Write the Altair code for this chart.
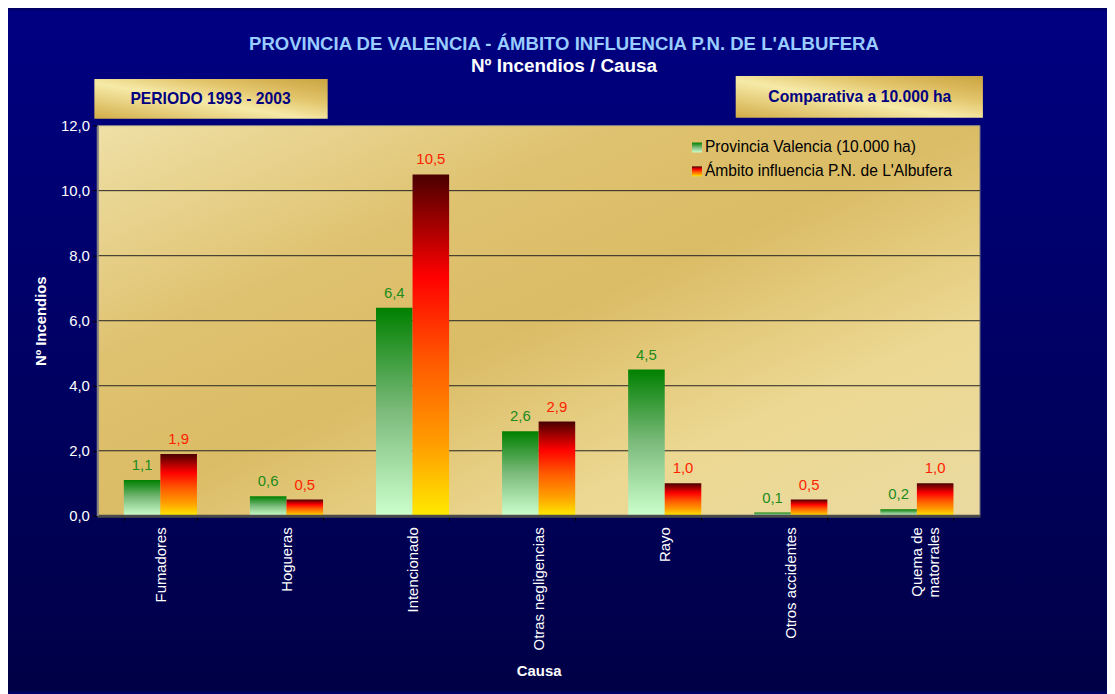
import altair as alt
import pandas as pd

# ---------------- data ----------------
causas = ["Fumadores", "Hogueras", "Intencionado", "Otras negligencias",
          "Rayo", "Otros accidentes", "Quema de matorrales"]
provincia = [1.1, 0.6, 6.4, 2.6, 4.5, 0.1, 0.2]
ambito = [1.9, 0.5, 10.5, 2.9, 1.0, 0.5, 1.0]
series = ["Provincia Valencia (10.000 ha)", "Ámbito influencia P.N. de L'Albufera"]
y_ticks = [0, 2, 4, 6, 8, 10, 12]
titulo = "PROVINCIA DE VALENCIA - ÁMBITO INFLUENCIA P.N. DE L'ALBUFERA"
subtitulo = "Nº Incendios / Causa"
caja_izq = "PERIODO 1993 - 2003"
caja_der = "Comparativa a 10.000 ha"
eje_y = "Nº Incendios"
eje_x = "Causa"

# ---------------- layout ----------------
W, H = 889, 393
PL, PT, PR, PB = 90, 116, 128, 177
FONT = "Liberation Sans"

rows = []
for c, a, b in zip(causas, provincia, ambito):
    rows.append({"causa": c, "serie": series[0], "valor": a})
    rows.append({"causa": c, "serie": series[1], "valor": b})
df = pd.DataFrame(rows)
grid_df = pd.DataFrame({"valor": y_ticks[1:-1]})
one = alt.Data(values=[{"k": 1}])


def grad(stops, x1=0, y1=0, x2=0, y2=1):
    return alt.Gradient(gradient="linear", x1=x1, y1=y1, x2=x2, y2=y2,
                        stops=[alt.GradientStop(color=c, offset=o) for o, c in stops])


g_green = grad([(0, "#008000"), (0.5, "#7cbb7c"), (1, "#ccffcc")])
g_red = grad([(0, "#4a0000"), (0.3, "#ff0000"), (0.55, "#ff5a00"),
              (0.8, "#ffa000"), (1, "#ffea00")])
g_navy = grad([(0, "#000082"), (1, "#000046")])
g_gold = grad([(0, "#efe0a6"), (0.3, "#dfc270"), (0.5, "#dbbc66"),
               (0.75, "#ecd892"), (1, "#eadaa0")], x1=0, y1=0, x2=1, y2=1)
g_box = grad([(0, "#d2ad48"), (0.45, "#f6eaa8"), (0.7, "#e2c46a"), (1, "#caa440")],
             x1=0, y1=1, x2=1, y2=0)

xs = alt.X("causa:N", sort=causas,
           scale=alt.Scale(domain=causas, paddingInner=0.42, paddingOuter=0.21),
           axis=alt.Axis(title=eje_x, labelAngle=270, tickBand="extent", zindex=1,
                         tickColor="#000000", tickSize=5, labelPadding=6,
                         domainColor="#4a4a4a", domainWidth=3,
                         titlePadding=14,
                         labelExpr="datum.value == 'Quema de matorrales' ? ['Quema de', 'matorrales'] : datum.label"))
xo = alt.XOffset("serie:N", scale=alt.Scale(domain=series, paddingInner=0, paddingOuter=0))
ys = alt.Y("valor:Q", scale=alt.Scale(domain=[0, 12], nice=False),
           axis=alt.Axis(title=eje_y, values=y_ticks, tickColor="#000000", tickSize=5, zindex=1,
                         labelPadding=3, domainColor="#808080", domainWidth=2,
                         titlePadding=12,
                         labelExpr="replace(format(datum.value, '.1f'), '.', ',')"))

base = alt.Chart(df)

bg = alt.Chart(one).mark_rect(fill=g_navy).encode(
    x=alt.value(-PL), x2=alt.value(W + PR), y=alt.value(-PT), y2=alt.value(H + PB))
plot_bg = alt.Chart(one).mark_rect(fill=g_gold, stroke="#8a8a8a", strokeWidth=1).encode(
    x=alt.value(0), x2=alt.value(W), y=alt.value(0), y2=alt.value(H))
grid = alt.Chart(grid_df).mark_rule(color="#222222", strokeWidth=1).encode(
    y=ys, x=alt.value(0), x2=alt.value(W))

bars_g = base.transform_filter(alt.datum.serie == series[0]).mark_bar(fill=g_green).encode(
    x=xs, xOffset=xo, y=ys)
bars_r = base.transform_filter(alt.datum.serie == series[1]).mark_bar(fill=g_red).encode(
    x=xs, xOffset=xo, y=ys)

txt_g = base.transform_filter(alt.datum.serie == series[0]).transform_calculate(
    lbl="replace(format(datum.valor, '.1f'), '.', ',')").mark_text(
    font=FONT, fontSize=15, color="#1c8c1c", baseline="bottom", dy=-7).encode(
    x=xs, xOffset=xo, y=ys, text="lbl:N")
txt_r = base.transform_filter(alt.datum.serie == series[1]).transform_calculate(
    lbl="replace(format(datum.valor, '.1f'), '.', ',')").mark_text(
    font=FONT, fontSize=15, color="#ff2200", baseline="bottom", dy=-7).encode(
    x=xs, xOffset=xo, y=ys, text="lbl:N")

# legend
leg_sw1 = alt.Chart(one).mark_rect(fill=g_green).encode(
    x=alt.value(599), x2=alt.value(609), y=alt.value(17), y2=alt.value(27))
leg_sw2 = alt.Chart(one).mark_rect(fill=g_red).encode(
    x=alt.value(599), x2=alt.value(609), y=alt.value(41), y2=alt.value(51))
leg_t1 = alt.Chart(one).mark_text(font=FONT, fontSize=15.7, color="#000000", align="left",
                                  baseline="middle").encode(
    x=alt.value(612), y=alt.value(22), text=alt.value(series[0]))
leg_t2 = alt.Chart(one).mark_text(font=FONT, fontSize=15.7, color="#000000", align="left",
                                  baseline="middle").encode(
    x=alt.value(612), y=alt.value(46), text=alt.value(series[1]))

# boxes
box1 = alt.Chart(one).mark_rect(fill=g_box).encode(
    x=alt.value(-3), x2=alt.value(232), y=alt.value(-47), y2=alt.value(-7))
box2 = alt.Chart(one).mark_rect(fill=g_box).encode(
    x=alt.value(643), x2=alt.value(892), y=alt.value(-50), y2=alt.value(-8))
box1_t = alt.Chart(one).mark_text(font=FONT, fontSize=15.8, fontWeight="bold", color="#000080",
                                  baseline="middle").encode(
    x=alt.value(114), y=alt.value(-27), text=alt.value(caja_izq))
box2_t = alt.Chart(one).mark_text(font=FONT, fontSize=15.8, fontWeight="bold", color="#000080",
                                  baseline="middle").encode(
    x=alt.value(768), y=alt.value(-29), text=alt.value(caja_der))

# titles
t1 = alt.Chart(one).mark_text(font=FONT, fontSize=18.7, fontWeight="bold", color="#99ccff",
                              baseline="middle").encode(
    x=alt.value(470), y=alt.value(-82), text=alt.value(titulo))
t2 = alt.Chart(one).mark_text(font=FONT, fontSize=19, fontWeight="bold", color="#ffffff",
                              baseline="middle").encode(
    x=alt.value(470), y=alt.value(-60), text=alt.value(subtitulo))

chart = alt.layer(
    bg, plot_bg, grid, bars_g, bars_r, txt_g, txt_r,
    leg_sw1, leg_sw2, leg_t1, leg_t2, box1, box2, box1_t, box2_t, t1, t2
).properties(
    width=W, height=H,
    padding={"left": PL, "top": PT, "right": PR, "bottom": PB},
    autosize=alt.AutoSizeParams(type="none"),
    background="#000064",
).configure_view(stroke=None).configure_axis(
    grid=False, labelFont=FONT, labelFontSize=15, labelColor="#ffffff",
    titleFont=FONT, titleFontSize=15, titleFontWeight="bold", titleColor="#ffffff",
)

chart.save("out.html", embed_options={"renderer": "svg", "actions": False})
